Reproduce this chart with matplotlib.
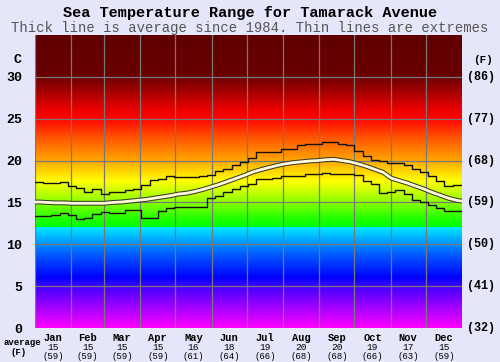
import numpy as np
import matplotlib
matplotlib.use("Agg")
import matplotlib.pyplot as plt

# ---------------- data ----------------
months = ["Jan", "Feb", "Mar", "Apr", "May", "Jun", "Jul", "Aug", "Sep", "Oct", "Nov", "Dec"]
month_avg_c = [15, 15, 15, 15, 16, 18, 19, 20, 20, 19, 17, 15]
month_avg_f = [59, 59, 59, 59, 61, 64, 66, 68, 68, 66, 63, 59]
month_start_days = [0, 31, 59, 90, 120, 151, 181, 212, 243, 273, 304, 334, 365]

# weekly values (52 weeks), degrees C
weekly_max = [17.45, 17.32, 17.36, 17.4, 17.0, 16.7, 16.3, 16.6, 16.0, 16.2,
              16.3, 16.5, 16.65, 17.04, 17.68, 17.8, 18.2, 18.0, 18.0, 18.0,
              18.2, 18.3, 18.76, 19.0, 19.44, 19.84, 20.36, 21.08, 21.04, 21.0,
              21.36, 21.36, 21.9, 21.95, 22.0, 22.24, 22.24, 21.96, 21.84, 21.2,
              20.6, 20.12, 19.9, 19.76, 19.7, 19.44, 19.04, 18.64, 18.16, 17.56,
              17.0, 17.04]
weekly_min = [13.36, 13.36, 13.44, 13.68, 13.44, 13.08, 13.16, 13.64, 13.9, 13.76,
              13.72, 14.04, 14.04, 13.16, 13.16, 14.0, 14.3, 14.5, 14.5, 14.5,
              14.5, 15.5, 15.76, 16.2, 16.64, 17.0, 17.16, 17.76, 17.76, 17.96,
              18.1, 18.16, 18.2, 18.44, 18.44, 18.48, 18.36, 18.36, 18.36, 18.24,
              17.6, 17.16, 16.16, 16.2, 16.48, 16.0, 15.3, 15.04, 14.64, 14.36,
              13.96, 13.96]
weekly_avg = [15.05, 15.0, 14.95, 14.95, 14.9, 14.9, 14.9, 14.9, 14.9, 15.0,
              15.05, 15.15, 15.25, 15.35, 15.5, 15.65, 15.8, 16.0, 16.1, 16.3,
              16.55, 16.85, 17.15, 17.5, 17.85, 18.2, 18.6, 18.9, 19.15, 19.4,
              19.6, 19.75, 19.85, 19.95, 20.0, 20.1, 20.15, 20.0, 19.85, 19.6,
              19.3, 18.95, 18.6, 17.9, 17.6, 17.3, 16.95, 16.6, 16.2, 15.85,
              15.5, 15.25]

yticks_c = [0, 5, 10, 15, 20, 25, 30]
yticks_f = ["(32)", "(41)", "(50)", "(59)", "(68)", "(77)", "(86)"]

# background colour stops (temperature C, rgb)
stop_t = [0, 2.5, 5, 6, 9, 11.999, 12.0, 13, 15, 17.5, 20, 22.5, 25, 26, 30, 35]
stop_rgb = [(255, 0, 255), (160, 0, 255), (64, 0, 255), (0, 0, 255), (0, 100, 255),
            (0, 235, 255), (0, 255, 0), (30, 255, 0), (140, 255, 0), (255, 255, 0),
            (255, 165, 0), (255, 90, 0), (255, 0, 0), (235, 0, 0), (105, 0, 0), (96, 0, 0)]

# ---------------- figure ----------------
bg = "#e6e6fa"
fig = plt.figure(figsize=(5.0, 3.62), dpi=100, facecolor=bg)
ax = fig.add_axes([0.07, 0.0939, 0.854, 0.8094])
ax.set_facecolor(bg)

ymax = 35
tt = np.linspace(0, ymax, 1401)
rgb = np.array(stop_rgb, dtype=float) / 255.0
img = np.stack([np.interp(tt, stop_t, rgb[:, k]) for k in range(3)], axis=-1)[:, None, :]
ax.imshow(img, extent=[0, 365, 0, ymax], origin="lower", aspect="auto",
          interpolation="nearest", zorder=0)

ax.set_xlim(0, 365)
ax.set_ylim(0, ymax)

# grid
for d in month_start_days[:-1]:
    ax.axvline(d, color="#787878", lw=0.9, zorder=1)
for t in yticks_c[1:]:
    ax.axhline(t, color="#787878", lw=0.9, zorder=1)

# lines
edges = np.array([7 * i for i in range(52)] + [365])
ax.step(edges, weekly_max + [weekly_max[-1]], where="post", color="#111111", lw=1.0, zorder=3)
ax.step(edges, weekly_min + [weekly_min[-1]], where="post", color="#111111", lw=1.0, zorder=3)
centers = np.array([7 * i + 3.5 for i in range(52)])
xa = np.concatenate([[0], centers, [365]])
ya = np.concatenate([[weekly_avg[0]], weekly_avg, [15.15]])
ax.plot(xa, ya, color="#3a3a2a", lw=3.5, zorder=4, solid_capstyle="butt")
ax.plot(xa, ya, color="#fffbd8", lw=2.0, zorder=5, solid_capstyle="butt")

for s in ax.spines.values():
    s.set_visible(False)

mono = "Liberation Mono"
ax.set_yticks(yticks_c)
ax.set_yticklabels([str(v) for v in yticks_c], fontfamily=mono, fontweight="bold", fontsize=9.5)
ax.tick_params(axis="y", length=0, pad=9)
ax.set_xticks([])

for t, lab in zip(yticks_c, yticks_f):
    ax.text(1.012, t, lab, transform=ax.get_yaxis_transform(), ha="left", va="center",
            fontfamily=mono, fontweight="bold", fontsize=8.5)
ax.text(-0.04, 32.0, "C", transform=ax.get_yaxis_transform(), ha="center", va="center",
        fontfamily=mono, fontweight="bold", fontsize=9.5)
ax.text(1.05, 32.0, "(F)", transform=ax.get_yaxis_transform(), ha="center", va="center",
        fontfamily=mono, fontweight="bold", fontsize=8)

xt = ax.get_xaxis_transform()
for i, m in enumerate(months):
    xc = (month_start_days[i] + month_start_days[i + 1]) / 2
    ax.text(xc, -0.018, m, transform=xt, ha="center", va="top",
            fontfamily=mono, fontweight="bold", fontsize=7.5)
    ax.text(xc, -0.052, str(month_avg_c[i]), transform=xt, ha="center", va="top",
            fontfamily=mono, fontsize=6.8)
    ax.text(xc, -0.083, "(%d)" % month_avg_f[i], transform=xt, ha="center", va="top",
            fontfamily=mono, fontsize=6.5)
fig.text(0.044, 1 - 342.5 / 362, "average", ha="center", va="center",
         fontfamily=mono, fontweight="bold", fontsize=6.5)
fig.text(0.037, 1 - 352.5 / 362, "(F)", ha="center", va="center",
         fontfamily=mono, fontweight="bold", fontsize=6.5)

fig.text(0.5, 1 - 13 / 362, "Sea Temperature Range for Tamarack Avenue", ha="center", va="center",
         fontfamily=mono, fontweight="bold", fontsize=11)
fig.text(0.5, 1 - 28 / 362, "Thick line is average since 1984. Thin lines are extremes",
         ha="center", va="center", fontfamily=mono, fontsize=10, color="#555555")

fig.savefig("out.png", dpi=100, facecolor=bg)
